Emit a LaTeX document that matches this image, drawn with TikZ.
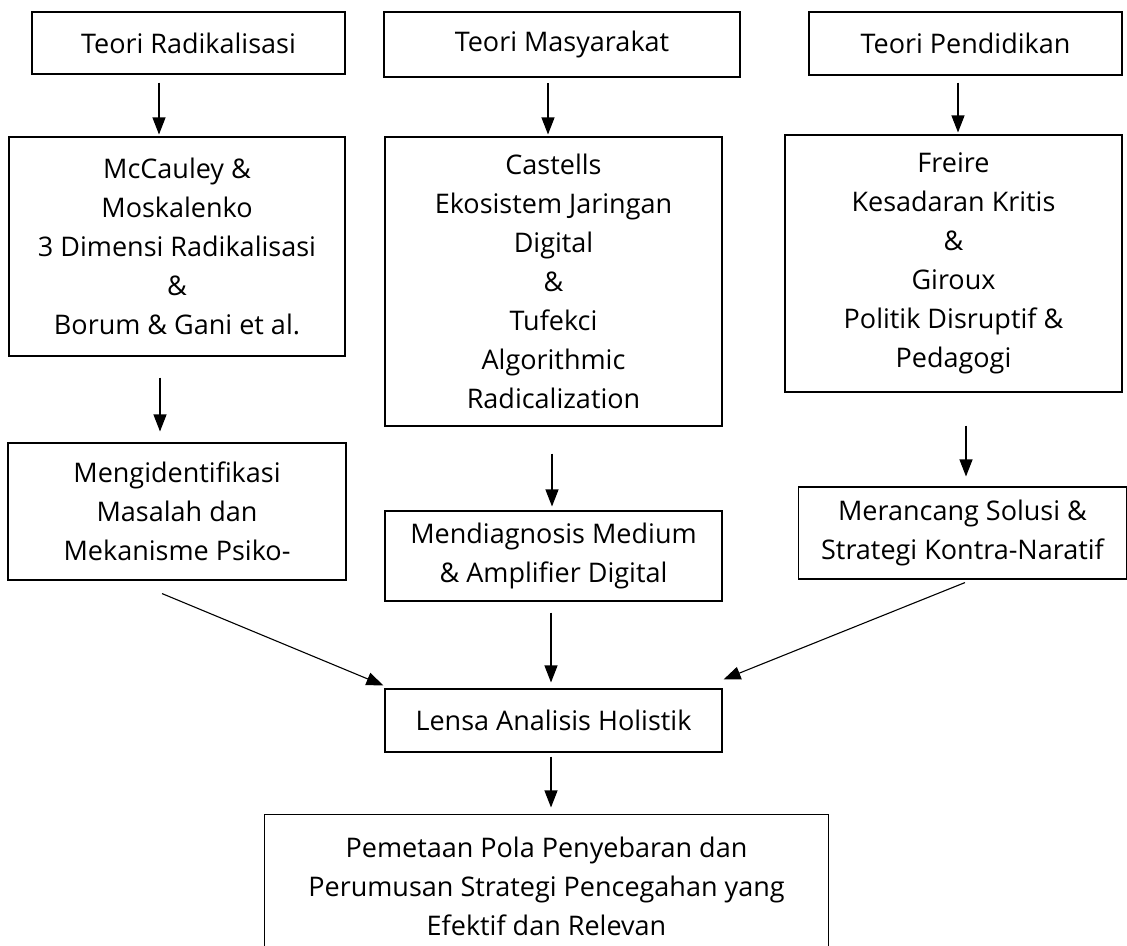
\documentclass[tikz,border=0pt]{standalone}
\usepackage{fontspec}
\setmainfont{Open Sans}
\usetikzlibrary{arrows.meta,calc}

\begin{document}
\begin{tikzpicture}[
x=1pt, y=-1pt,
kotak/.style={rectangle, draw=black, line width=1.1pt, inner sep=0pt, align=center,
  font=\fontsize{27}{39}\selectfont},
kotaktebal/.style={kotak, line width=2.6pt},
panah/.style={-{Triangle[width=13pt,length=17pt]}, line width=1.1pt},
]
\useasboundingbox (0,0) rectangle (1127,945);
\node[kotak] (radTeori) at (188.5,43) [minimum width=313pt, minimum height=62pt] {Teori Radikalisasi};
\node[kotaktebal] (masTeori) at (562,44.5) [minimum width=356pt, minimum height=65pt] {Teori Masyarakat};
\node[kotak] (penTeori) at (965.5,43.5) [minimum width=313pt, minimum height=63pt] {Teori Pendidikan};

\node[kotak] (radTokoh) at (177,246.5) [minimum width=336pt, minimum height=219pt]
  {McCauley \&\\ Moskalenko\\ 3 Dimensi Radikalisasi\\ \&\\ Borum \& Gani et al.};
\node[kotak] (masTokoh) at (553.5,281.5) [minimum width=337pt, minimum height=289pt]
  {Castells\\ Ekosistem Jaringan\\ Digital\\ \&\\ Tufekci\\ Algorithmic\\ Radicalization};
\node[kotak] (penTokoh) at (953.5,263.5) [minimum width=337pt, minimum height=257pt]
  {Freire\\ Kesadaran Kritis\\ \&\\ Giroux\\ Politik Disruptif \&\\ Pedagogi};

\node[kotak] (radHasil) at (177,511.5) [minimum width=338pt, minimum height=137pt]
  {Mengidentifikasi\\ Masalah dan\\ Mekanisme Psiko-};
\node[kotak] (masHasil) at (553.5,556) [minimum width=337pt, minimum height=90pt]
  {Mendiagnosis Medium\\ \& Amplifier Digital};
\node[kotak] (penHasil) at (962.5,533) [minimum width=328pt, minimum height=92pt]
  {Merancang Solusi \&\\ Strategi Kontra-Naratif};

\node[kotak] (lensa) at (553.5,720.5) [minimum width=337pt, minimum height=63pt] {Lensa Analisis Holistik};
\node[kotak, draw=none] (akhir) at (546.5,886) [minimum width=563pt, minimum height=142pt]
  {Pemetaan Pola Penyebaran dan\\ Perumusan Strategi Pencegahan yang\\ Efektif dan Relevan};
\draw[line width=1.1pt] (akhir.south west) |- (akhir.north east) -- (akhir.south east);

\draw[panah] ($(radTeori.south)+(-29.5,8)$) -- ($(radTokoh.north)+(-18,-2)$);
\draw[panah] ($(masTeori.south)+(-14,5)$) -- ($(masTokoh.north)+(-5.5,-2)$);
\draw[panah] ($(penTeori.south)+(-7.5,7)$) -- ($(penTokoh.north)+(4.5,-2)$);

\draw[panah] ($(radTokoh.south)+(-17,21)$) -- ($(radHasil.north)+(-17,-11)$);
\draw[panah] ($(masTokoh.south)+(-1.5,27)$) -- ($(masHasil.north)+(-1.5,-4)$);
\draw[panah] ($(penTokoh.south)+(12.5,33)$) -- ($(penHasil.north)+(3.5,-10)$);

\draw[panah] ($(radHasil.south)+(-15,13)$) -- ($(lensa.north west)+(-1,-3)$);
\draw[panah] ($(masHasil.south)+(-2.5,11)$) -- ($(lensa.north)+(-2.5,-6)$);
\draw[panah] ($(penHasil.south)+(2.5,3)$) -- ($(lensa.north east)+(1,-9)$);

\draw[panah] ($(lensa.south)+(-2.5,4)$) -- ($(akhir.north)+(4.5,-7)$);
\end{tikzpicture}
\end{document}
